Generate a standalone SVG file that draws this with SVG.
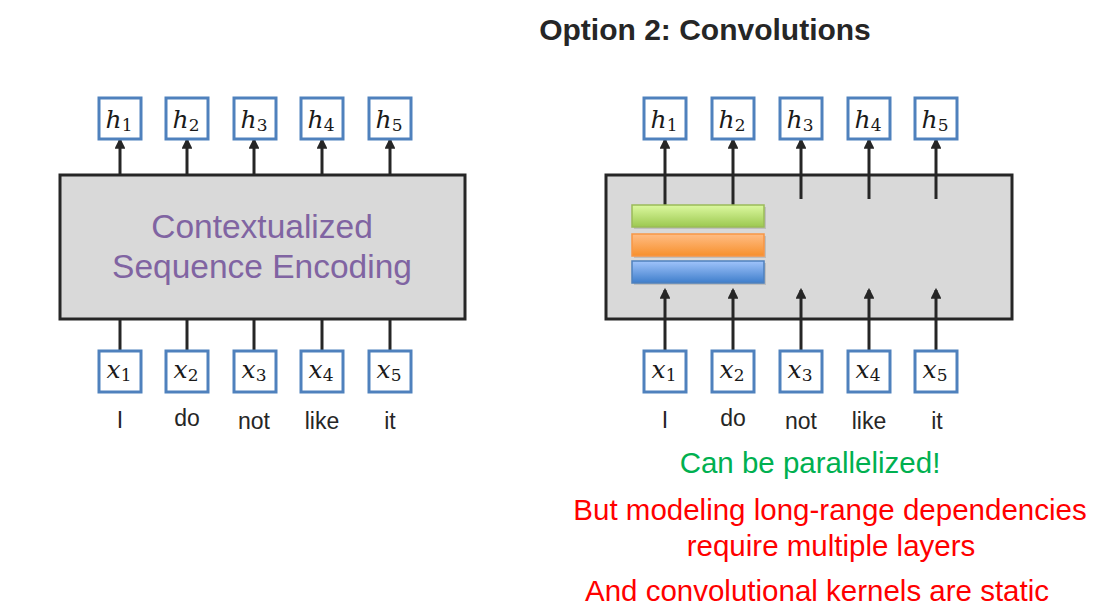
<svg xmlns="http://www.w3.org/2000/svg" width="1100" height="614" viewBox="0 0 1100 614">
<defs>
<style>
.big{fill:#d9d9d9;stroke:#262626;stroke-width:3}
.tok{fill:#fff;stroke:#4f81bd;stroke-width:3}
.math{font-family:"DejaVu Serif","Liberation Serif",serif;font-style:italic;font-size:25px;fill:#1a1a1a;text-anchor:middle}
.sub{font-style:normal;font-size:17px}
.word{font-family:"Liberation Sans",Arial,sans-serif;font-size:23px;fill:#262626;text-anchor:middle}
.ln{stroke:#262626;stroke-width:3;fill:none}
.arr{stroke:#262626;stroke-width:3;fill:none;marker-end:url(#ah)}
.note{font-family:"Liberation Sans",Arial,sans-serif;font-size:29.5px;text-anchor:middle}
</style>
<marker id="ah" viewBox="0 0 10 10" refX="8" refY="5" markerWidth="3.6" markerHeight="3.6" orient="auto" markerUnits="strokeWidth">
<path d="M0,0 L10,5 L0,10 z" fill="#262626"/>
</marker>
<linearGradient id="gG" x1="0" y1="0" x2="0" y2="1"><stop offset="0" stop-color="#dcf9a0"/><stop offset="1" stop-color="#9cc850"/></linearGradient>
<linearGradient id="gO" x1="0" y1="0" x2="0" y2="1"><stop offset="0" stop-color="#ffbd85"/><stop offset="1" stop-color="#f7902c"/></linearGradient>
<linearGradient id="gB" x1="0" y1="0" x2="0" y2="1"><stop offset="0" stop-color="#a0c4fb"/><stop offset="1" stop-color="#3f7ecb"/></linearGradient>
</defs>

<text id="title" x="705" y="40" font-family="Liberation Sans,Arial,sans-serif" font-weight="bold" font-size="30" fill="#262626" text-anchor="middle">Option 2: Convolutions</text>

<!-- Left diagram -->
<g id="encoderLeft">
<rect class="big" x="60" y="175" width="405" height="144"/>
<text x="262" y="238" font-family="Liberation Sans,Arial,sans-serif" font-size="33.5" fill="#8064a2" text-anchor="middle">Contextualized</text>
<text x="262" y="278" font-family="Liberation Sans,Arial,sans-serif" font-size="33.5" fill="#8064a2" text-anchor="middle">Sequence Encoding</text>
</g>

<g id="convRight">
<rect class="big" x="606" y="175" width="406" height="144"/>
</g>

<g id="connectors">
<!-- left top -->
<line class="arr" x1="120" y1="175" x2="120" y2="140"/>
<line class="arr" x1="187" y1="175" x2="187" y2="140"/>
<line class="arr" x1="254" y1="175" x2="254" y2="140"/>
<line class="arr" x1="322" y1="175" x2="322" y2="140"/>
<line class="arr" x1="390" y1="175" x2="390" y2="140"/>
<!-- left bottom -->
<line class="ln" x1="120" y1="319" x2="120" y2="351"/>
<line class="ln" x1="187" y1="319" x2="187" y2="351"/>
<line class="ln" x1="254" y1="319" x2="254" y2="351"/>
<line class="ln" x1="322" y1="319" x2="322" y2="351"/>
<line class="ln" x1="390" y1="319" x2="390" y2="351"/>
<!-- right top -->
<line class="arr" x1="665" y1="205" x2="665" y2="140"/>
<line class="arr" x1="733" y1="205" x2="733" y2="140"/>
<line class="arr" x1="801" y1="199" x2="801" y2="140"/>
<line class="arr" x1="869" y1="199" x2="869" y2="140"/>
<line class="arr" x1="936" y1="199" x2="936" y2="140"/>
<!-- right bottom -->
<line class="arr" x1="665" y1="351" x2="665" y2="290"/>
<line class="arr" x1="733" y1="351" x2="733" y2="290"/>
<line class="arr" x1="801" y1="351" x2="801" y2="290"/>
<line class="arr" x1="869" y1="351" x2="869" y2="290"/>
<line class="arr" x1="936" y1="351" x2="936" y2="290"/>
</g>

<g id="kernels">
<rect x="634" y="207" width="132" height="22" fill="#000" opacity="0.12"/>
<rect x="632" y="205" width="132" height="22" fill="url(#gG)" stroke="#9bbb59" stroke-width="1.5"/>
<rect x="634" y="236" width="132" height="22" fill="#000" opacity="0.12"/>
<rect x="632" y="234" width="132" height="22" fill="url(#gO)" stroke="#f79646" stroke-width="1.5"/>
<rect x="634" y="263" width="132" height="22" fill="#000" opacity="0.12"/>
<rect x="632" y="261" width="132" height="22" fill="url(#gB)" stroke="#4f81bd" stroke-width="1.5"/>
</g>

<!-- left h nodes -->
<g id="Lh1"><rect class="tok" x="99" y="98" width="42" height="41"/><text class="math" x="119" y="128">h<tspan class="sub" dy="3">1</tspan></text></g>
<g id="Lh2"><rect class="tok" x="166" y="98" width="42" height="41"/><text class="math" x="186" y="128">h<tspan class="sub" dy="3">2</tspan></text></g>
<g id="Lh3"><rect class="tok" x="234" y="98" width="42" height="41"/><text class="math" x="254" y="128">h<tspan class="sub" dy="3">3</tspan></text></g>
<g id="Lh4"><rect class="tok" x="301" y="98" width="42" height="41"/><text class="math" x="321" y="128">h<tspan class="sub" dy="3">4</tspan></text></g>
<g id="Lh5"><rect class="tok" x="369" y="98" width="42" height="41"/><text class="math" x="389" y="128">h<tspan class="sub" dy="3">5</tspan></text></g>
<!-- left x nodes -->
<g id="Lx1"><rect class="tok" x="99" y="351" width="42" height="41"/><text class="math" x="119" y="378">x<tspan class="sub" dy="3">1</tspan></text></g>
<g id="Lx2"><rect class="tok" x="166" y="351" width="42" height="41"/><text class="math" x="186" y="378">x<tspan class="sub" dy="3">2</tspan></text></g>
<g id="Lx3"><rect class="tok" x="234" y="351" width="42" height="41"/><text class="math" x="254" y="378">x<tspan class="sub" dy="3">3</tspan></text></g>
<g id="Lx4"><rect class="tok" x="301" y="351" width="42" height="41"/><text class="math" x="321" y="378">x<tspan class="sub" dy="3">4</tspan></text></g>
<g id="Lx5"><rect class="tok" x="369" y="351" width="42" height="41"/><text class="math" x="389" y="378">x<tspan class="sub" dy="3">5</tspan></text></g>

<!-- right h nodes -->
<g id="Rh1"><rect class="tok" x="644" y="98" width="42" height="41"/><text class="math" x="664" y="128">h<tspan class="sub" dy="3">1</tspan></text></g>
<g id="Rh2"><rect class="tok" x="712" y="98" width="42" height="41"/><text class="math" x="732" y="128">h<tspan class="sub" dy="3">2</tspan></text></g>
<g id="Rh3"><rect class="tok" x="780" y="98" width="42" height="41"/><text class="math" x="800" y="128">h<tspan class="sub" dy="3">3</tspan></text></g>
<g id="Rh4"><rect class="tok" x="848" y="98" width="42" height="41"/><text class="math" x="868" y="128">h<tspan class="sub" dy="3">4</tspan></text></g>
<g id="Rh5"><rect class="tok" x="915" y="98" width="42" height="41"/><text class="math" x="935" y="128">h<tspan class="sub" dy="3">5</tspan></text></g>
<!-- right x nodes -->
<g id="Rx1"><rect class="tok" x="644" y="351" width="42" height="41"/><text class="math" x="664" y="378">x<tspan class="sub" dy="3">1</tspan></text></g>
<g id="Rx2"><rect class="tok" x="712" y="351" width="42" height="41"/><text class="math" x="732" y="378">x<tspan class="sub" dy="3">2</tspan></text></g>
<g id="Rx3"><rect class="tok" x="780" y="351" width="42" height="41"/><text class="math" x="800" y="378">x<tspan class="sub" dy="3">3</tspan></text></g>
<g id="Rx4"><rect class="tok" x="848" y="351" width="42" height="41"/><text class="math" x="868" y="378">x<tspan class="sub" dy="3">4</tspan></text></g>
<g id="Rx5"><rect class="tok" x="915" y="351" width="42" height="41"/><text class="math" x="935" y="378">x<tspan class="sub" dy="3">5</tspan></text></g>

<g id="wordsLeft">
<text class="word" x="120" y="428">I</text>
<text class="word" x="187" y="426">do</text>
<text class="word" x="254" y="429">not</text>
<text class="word" x="322" y="429">like</text>
<text class="word" x="390" y="429">it</text>
</g>
<g id="wordsRight">
<text class="word" x="665" y="428">I</text>
<text class="word" x="733" y="426">do</text>
<text class="word" x="801" y="429">not</text>
<text class="word" x="869" y="429">like</text>
<text class="word" x="937" y="429">it</text>
</g>

<g id="notes">
<text class="note" x="810" y="473" fill="#00b050">Can be parallelized!</text>
<text class="note" x="830" y="520" fill="#ff0000">But modeling long-range dependencies</text>
<text class="note" x="831" y="556" fill="#ff0000">require multiple layers</text>
<text class="note" x="817" y="601" fill="#ff0000">And convolutional kernels are static</text>
</g>
</svg>
